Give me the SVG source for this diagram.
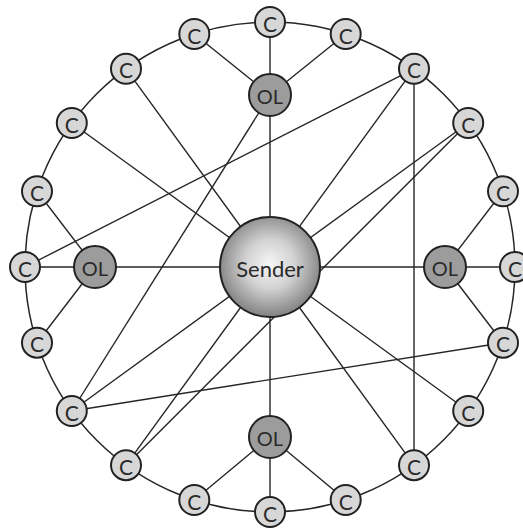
<svg xmlns="http://www.w3.org/2000/svg" width="523" height="528" viewBox="0 0 523 528">
<defs>
<radialGradient id="sg" cx="0.5" cy="0.47" r="0.55">
<stop offset="0" stop-color="#f6f6f6"/>
<stop offset="0.45" stop-color="#d2d2d2"/>
<stop offset="1" stop-color="#7c7c7c"/>
</radialGradient>
<style>
.ln{stroke:#262626;stroke-width:1.4;fill:none}
.ring{stroke:#262626;stroke-width:1.5;fill:none}
.c circle{fill:#d7d7d7;stroke:#222;stroke-width:2}
.ol circle{fill:#9c9c9c;stroke:#222;stroke-width:2}
.c text,.ol text,.s text{font-family:Lato,"Liberation Sans",sans-serif;fill:#2a2a2a;text-anchor:middle;dominant-baseline:central}
.c text{font-size:21px}
.ol text{font-size:20px}
.s text{font-size:22px}
</style>
</defs>
<rect width="523" height="528" fill="#fff"/>
<g id="connectors">
<circle class="ring" cx="270" cy="267" r="245"/>
<line class="ln" x1="270" y1="22" x2="270" y2="512"/>
<line class="ln" x1="25" y1="267" x2="515" y2="267"/>
<line class="ln" x1="270" y1="95" x2="345.7" y2="34"/>
<line class="ln" x1="270" y1="95" x2="194.3" y2="34"/>
<line class="ln" x1="445" y1="267" x2="503" y2="191.3"/>
<line class="ln" x1="445" y1="267" x2="503" y2="342.7"/>
<line class="ln" x1="270" y1="437" x2="345.7" y2="500"/>
<line class="ln" x1="270" y1="437" x2="194.3" y2="500"/>
<line class="ln" x1="95" y1="267" x2="37" y2="191.3"/>
<line class="ln" x1="95" y1="267" x2="37" y2="342.7"/>
<line class="ln" x1="270" y1="267" x2="126" y2="68.8"/>
<line class="ln" x1="270" y1="267" x2="71.8" y2="123"/>
<line class="ln" x1="270" y1="267" x2="414" y2="68.8"/>
<line class="ln" x1="270" y1="267" x2="468.2" y2="123"/>
<line class="ln" x1="270" y1="267" x2="468.2" y2="411"/>
<line class="ln" x1="270" y1="267" x2="414" y2="465.2"/>
<line class="ln" x1="270" y1="267" x2="71.8" y2="411"/>
<line class="ln" x1="270" y1="267" x2="126" y2="465.2"/>
<line class="ln" x1="25" y1="267" x2="414" y2="68.8"/>
<line class="ln" x1="270" y1="95" x2="71.8" y2="411"/>
<line class="ln" x1="414" y1="68.8" x2="414" y2="465.2"/>
<line class="ln" x1="468.2" y1="123" x2="126" y2="465.2"/>
<line class="ln" x1="71.8" y1="411" x2="503" y2="342.7"/>
</g>
<g id="sender" class="s">
<circle cx="270" cy="267" r="50" fill="url(#sg)" stroke="#222" stroke-width="2"/>
<text x="270" y="268">Sender</text>
</g>
<g id="ol-top" class="ol"><circle cx="270" cy="95" r="21"/><text x="270" y="96">OL</text></g>
<g id="ol-right" class="ol"><circle cx="445" cy="267" r="21"/><text x="445" y="268">OL</text></g>
<g id="ol-bottom" class="ol"><circle cx="270" cy="437" r="21"/><text x="270" y="438">OL</text></g>
<g id="ol-left" class="ol"><circle cx="95" cy="267" r="21"/><text x="95" y="268">OL</text></g>
<g id="c0" class="c"><circle cx="270" cy="22" r="15"/><text x="270" y="23">C</text></g>
<g id="c18" class="c"><circle cx="345.7" cy="34" r="15"/><text x="345.7" y="35">C</text></g>
<g id="c36" class="c"><circle cx="414" cy="68.8" r="15"/><text x="414" y="69.8">C</text></g>
<g id="c54" class="c"><circle cx="468.2" cy="123" r="15"/><text x="468.2" y="124">C</text></g>
<g id="c72" class="c"><circle cx="503" cy="191.3" r="15"/><text x="503" y="192.3">C</text></g>
<g id="c90" class="c"><circle cx="515" cy="267" r="15"/><text x="515" y="268">C</text></g>
<g id="c108" class="c"><circle cx="503" cy="342.7" r="15"/><text x="503" y="343.7">C</text></g>
<g id="c126" class="c"><circle cx="468.2" cy="411" r="15"/><text x="468.2" y="412">C</text></g>
<g id="c144" class="c"><circle cx="414" cy="465.2" r="15"/><text x="414" y="466.2">C</text></g>
<g id="c162" class="c"><circle cx="345.7" cy="500" r="15"/><text x="345.7" y="501">C</text></g>
<g id="c180" class="c"><circle cx="270" cy="512" r="15"/><text x="270" y="513">C</text></g>
<g id="c198" class="c"><circle cx="194.3" cy="500" r="15"/><text x="194.3" y="501">C</text></g>
<g id="c216" class="c"><circle cx="126" cy="465.2" r="15"/><text x="126" y="466.2">C</text></g>
<g id="c234" class="c"><circle cx="71.8" cy="411" r="15"/><text x="71.8" y="412">C</text></g>
<g id="c252" class="c"><circle cx="37" cy="342.7" r="15"/><text x="37" y="343.7">C</text></g>
<g id="c270" class="c"><circle cx="25" cy="267" r="15"/><text x="25" y="268">C</text></g>
<g id="c288" class="c"><circle cx="37" cy="191.3" r="15"/><text x="37" y="192.3">C</text></g>
<g id="c306" class="c"><circle cx="71.8" cy="123" r="15"/><text x="71.8" y="124">C</text></g>
<g id="c324" class="c"><circle cx="126" cy="68.8" r="15"/><text x="126" y="69.8">C</text></g>
<g id="c342" class="c"><circle cx="194.3" cy="34" r="15"/><text x="194.3" y="35">C</text></g>
</svg>
